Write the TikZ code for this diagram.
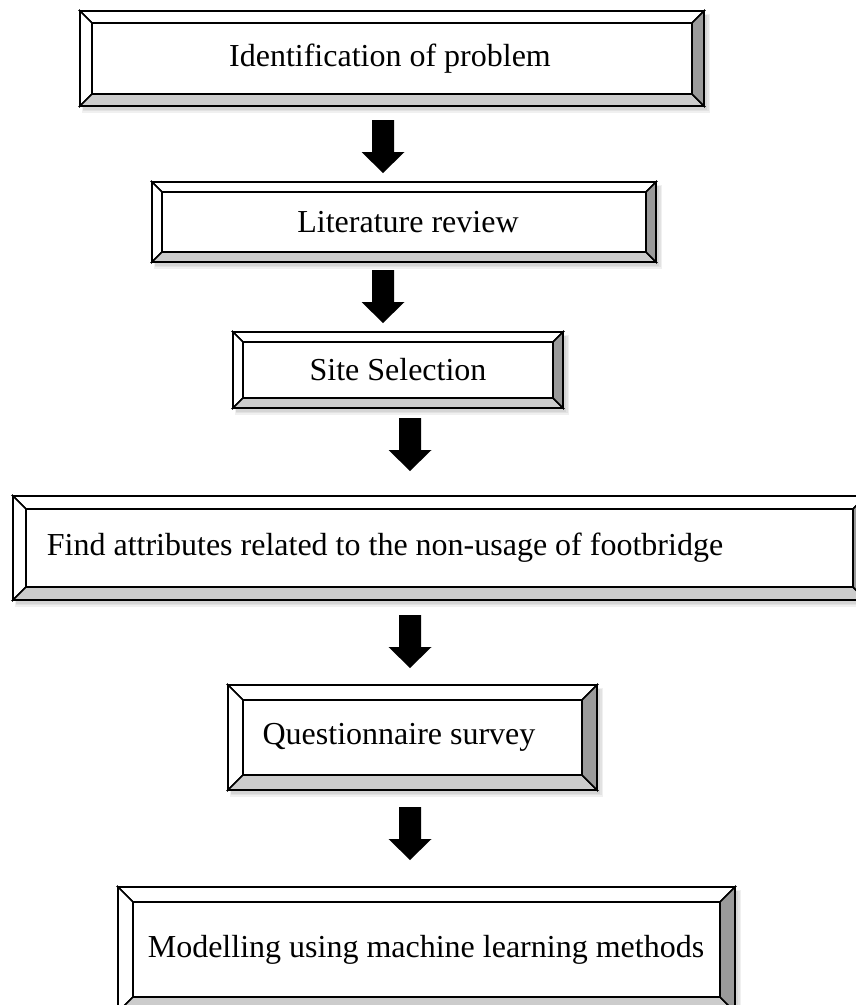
\documentclass[tikz,border=0pt]{standalone}
\usepackage{fontspec}
\setmainfont{Liberation Serif}
\usetikzlibrary{calc}
\definecolor{bevelbottom}{HTML}{CCCCCC}
\definecolor{bevelright}{HTML}{9A9A9A}
\tikzset{
  bevelline/.style={draw=black, line width=1.6pt, line join=miter},
  boxtext/.style={inner sep=0pt, font=\fontsize{32}{38}\selectfont},
  blockarrow/.style={fill=black, draw=none},
  boxshadow/.style={fill=black, opacity=0.06},
}
% \bevelbox{name}{x1}{y1}{x2}{y2}{bevel}{text x}{text}
\newcommand{\bevelbox}[8]{%
  % soft drop shadow, offset down and right
  \fill[boxshadow] ({#2+2},{#3+3}) rectangle ({#4+6},{#5+7});
  \fill[boxshadow] ({#2+3},{#3+4}) rectangle ({#4+4.5},{#5+5});
  \fill[boxshadow] ({#2+3},{#3+4}) rectangle ({#4+3},{#5+3.5});
  % four bevel faces round a flat face
  \filldraw[bevelline, fill=white] (#2,#3) -- (#4,#3) -- ({#4-#6},{#3+#6}) -- ({#2+#6},{#3+#6}) -- cycle;
  \filldraw[bevelline, fill=white] (#2,#3) -- ({#2+#6},{#3+#6}) -- ({#2+#6},{#5-#6}) -- (#2,#5) -- cycle;
  \filldraw[bevelline, fill=bevelbottom] (#2,#5) -- ({#2+#6},{#5-#6}) -- ({#4-#6},{#5-#6}) -- (#4,#5) -- cycle;
  \filldraw[bevelline, fill=bevelright] (#4,#3) -- (#4,#5) -- ({#4-#6},{#5-#6}) -- ({#4-#6},{#3+#6}) -- cycle;
  \filldraw[bevelline, fill=white] ({#2+#6},{#3+#6}) rectangle ({#4-#6},{#5-#6});
  \node[boxtext] (#1) at (#7,{(#3+#5)/2}) {#8};
}
% \blockdown{x}{y top}{y tip}
\newcommand{\blockdown}[3]{%
  \fill[blockarrow] ({#1-11},#2) -- ({#1+11},#2) -- ({#1+11},{#3-21}) -- ({#1+21.5},{#3-21})
    -- (#1,#3) -- ({#1-21.5},{#3-21}) -- ({#1-11},{#3-21}) -- cycle;
}
\begin{document}
\begin{tikzpicture}[x=1pt,y=-1pt]
\useasboundingbox (0,0) rectangle (856,1005);
\begin{scope}
\clip (0,0) rectangle (856,1005);
\bevelbox{identify}{80}{11}{704}{106}{12}{390}{Identification of problem}
\blockdown{383}{120}{173}
\bevelbox{literature}{152}{182}{656}{262}{10}{408}{Literature review}
\blockdown{383}{270}{323}
\bevelbox{site}{233}{332}{563}{408}{10}{398}{Site Selection}
\blockdown{410}{418}{471}
\bevelbox{attributes}{13}{496}{866}{600}{13}{385}{Find attributes related to the non-usage of footbridge}
\blockdown{410}{615}{668}
\bevelbox{survey}{228}{685}{597}{790}{15}{399}{Questionnaire survey}
\blockdown{410}{807}{860}
\bevelbox{modelling}{118}{887}{735}{1012}{15}{426}{Modelling using machine learning methods}
\end{scope}
\end{tikzpicture}
\end{document}
